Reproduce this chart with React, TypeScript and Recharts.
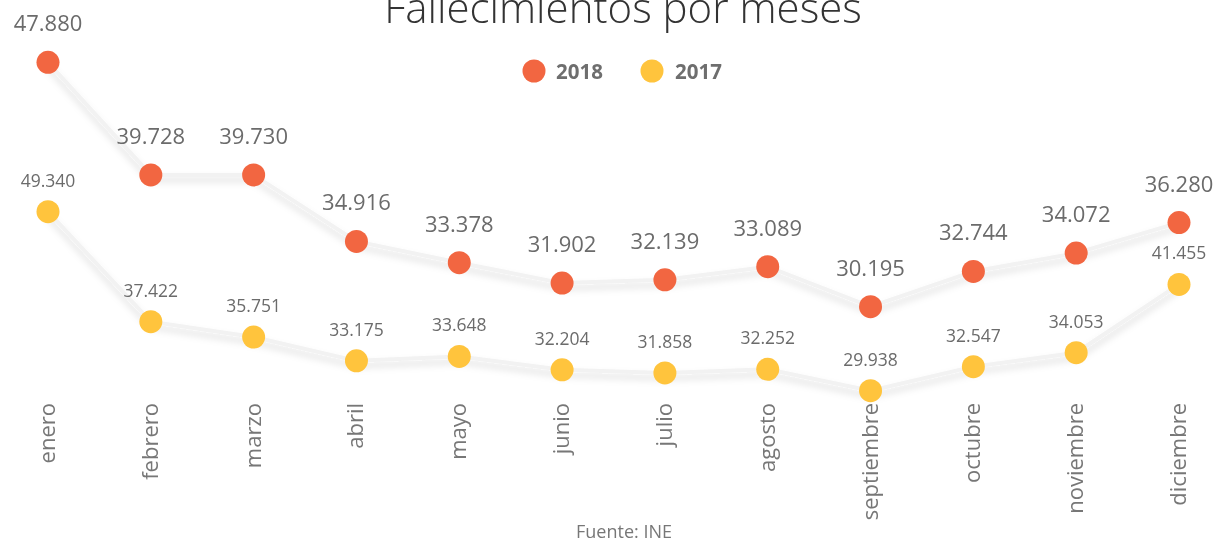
import { LineChart, Line, XAxis, YAxis, LabelList } from 'recharts'

const months = ['enero', 'febrero', 'marzo', 'abril', 'mayo', 'junio', 'julio', 'agosto', 'septiembre', 'octubre', 'noviembre', 'diciembre']
const deaths2018 = [47880, 39728, 39730, 34916, 33378, 31902, 32139, 33089, 30195, 32744, 34072, 36280]
const deaths2017 = [49340, 37422, 35751, 33175, 33648, 32204, 31858, 32252, 29938, 32547, 34053, 41455]

const RED = '#f26641'
const YELLOW = '#ffc43d'
const FONT = '"Open Sans", "Noto Sans", sans-serif'

const W = 1218
const H = 544

const data = months.map((m, i) => ({ month: m, y2018: deaths2018[i], y2017: deaths2017[i] }))

function fmt(v: number) {
  const s = String(Math.round(v))
  return s.replace(/\B(?=(\d{3})+(?!\d))/g, '.')
}

// rotated month names, hanging down from just under the lowest points
function MonthTick({ x, y, payload }: any) {
  return (
    <text
      transform={`translate(${x + 7},${y - 47}) rotate(-90)`}
      textAnchor="end"
      fontSize={22}
      fontFamily={FONT}
      fill="#777"
    >
      {payload.value}
    </text>
  )
}

const makeDot = (color: string) => (p: any) => (
  <circle key={`d-${color}-${p.index}`} cx={p.cx} cy={p.cy} r={11.5} fill={color} />
)

const makeLabel = (size: number, offset: number) => (p: any) => (
  <text
    key={`l-${size}-${p.index}`}
    x={p.x}
    y={p.y - offset}
    textAnchor="middle"
    fontSize={size}
    fontFamily={FONT}
    fill="#6b6b6b"
  >
    {fmt(Number(p.value))}
  </text>
)

export default function App() {
  return (
    <div style={{ position: 'fixed', left: 0, top: 0, width: W, height: H, fontFamily: FONT, overflow: 'hidden' }}>
      <svg width={0} height={0} style={{ position: 'absolute' }}>
        <defs>
          <filter id="lineShadow" x="-5%" y="-30%" width="110%" height="180%">
            <feDropShadow dx="0" dy="5" stdDeviation="3.5" floodColor="#000" floodOpacity="0.13" />
          </filter>
        </defs>
      </svg>
      <LineChart width={W} height={H} data={data} margin={{ top: 0, right: 0, bottom: 0, left: 0 }}>
        <XAxis
          dataKey="month"
          height={94}
          axisLine={false}
          tickLine={false}
          tickSize={0}
          tickMargin={0}
          interval={0}
          tick={<MonthTick />}
          padding={{ left: 48, right: 39 }}
        />
        <YAxis yAxisId="a" hide domain={[19826, 52388]} allowDataOverflow />
        <YAxis yAxisId="b" hide domain={[23511, 72286]} allowDataOverflow />
        <Line
          yAxisId="b"
          dataKey="y2017"
          stroke="#f2f2f2"
          strokeWidth={4}
          filter="url(#lineShadow)"
          dot={makeDot(YELLOW)}
          activeDot={false}
          isAnimationActive={false}
        >
          <LabelList dataKey="y2017" content={makeLabel(17.5, 25)} />
        </Line>
        <Line
          yAxisId="a"
          dataKey="y2018"
          stroke="#f2f2f2"
          strokeWidth={4}
          filter="url(#lineShadow)"
          dot={makeDot(RED)}
          activeDot={false}
          isAnimationActive={false}
        >
          <LabelList dataKey="y2018" content={makeLabel(22, 31)} />
        </Line>
      </LineChart>
      <svg width={W} height={H} style={{ position: 'absolute', left: 0, top: 0, pointerEvents: 'none' }}>
        <text x={623} y={23} textAnchor="middle" fontSize={42} fontWeight={300} fontFamily={FONT} fill="#333">
          Fallecimientos por meses
        </text>
        <circle cx={534} cy={71} r={11.5} fill={RED} />
        <text x={556} y={79} fontSize={20.5} fontWeight={700} fontFamily={FONT} fill="#6e6e6e">2018</text>
        <circle cx={652} cy={71} r={11.5} fill={YELLOW} />
        <text x={675} y={79} fontSize={20.5} fontWeight={700} fontFamily={FONT} fill="#6e6e6e">2017</text>
        <text x={624} y={538} textAnchor="middle" fontSize={18} fontFamily={FONT} fill="#777">
          Fuente: INE
        </text>
      </svg>
    </div>
  )
}
